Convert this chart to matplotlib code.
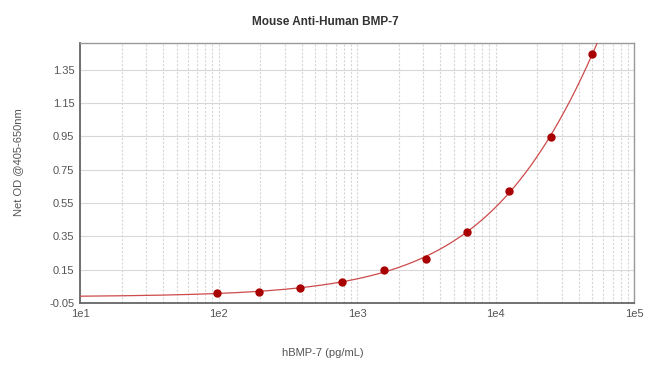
import numpy as np
import matplotlib
matplotlib.use('Agg')
import matplotlib.pyplot as plt
from matplotlib.ticker import FixedLocator, NullFormatter

plt.rcParams['font.family'] = ['Liberation Sans', 'DejaVu Sans']

# standard curve readings
conc = [97.66, 195.3, 390.6, 781.3, 1562.5, 3125, 6250, 12500, 25000, 50000]
od = [0.008, 0.017, 0.043, 0.077, 0.146, 0.214, 0.377, 0.622, 0.946, 1.445]

y_ticks = [-0.05, 0.15, 0.35, 0.55, 0.75, 0.95, 1.15, 1.35]
x_ticks = [1e1, 1e2, 1e3, 1e4, 1e5]
x_tick_labels = ['1e1', '1e2', '1e3', '1e4', '1e5']


def fit_4pl(x, y):
    # grid over slope/midpoint, least squares for the two asymptotes
    x = np.asarray(x, float)
    y = np.asarray(y, float)
    best = None
    for b in np.linspace(0.3, 2.0, 171):
        for lc in np.linspace(3.0, 7.0, 201):
            u = (x / 10 ** lc) ** b
            M = np.column_stack([1 / (1 + u), u / (1 + u)])
            coef, *_ = np.linalg.lstsq(M, y, rcond=None)
            err = np.sum((M @ coef - y) ** 2)
            if best is None or err < best[0]:
                best = (err, b, 10 ** lc, coef[0], coef[1])
    _, b, c, a, d = best
    return lambda t: d + (a - d) / (1 + (t / c) ** b)


curve = fit_4pl(conc, od)
xs = np.logspace(1, 5, 400)

fig = plt.figure(figsize=(6.5, 3.69), dpi=100)
ax = fig.add_axes([80 / 650, 1 - 303 / 369, 554 / 650, 260 / 369])

ax.plot(xs, curve(xs), color='#cc4a4a', lw=0.9, zorder=3)
ax.plot(conc, od, 'o', color='#a80000', ms=5, zorder=4)

ax.set_xscale('log')
ax.set_xlim(10, 1e5)
ax.set_ylim(-0.05, 1.51)

ax.xaxis.set_major_locator(FixedLocator(x_ticks))
ax.set_xticklabels(x_tick_labels)
ax.xaxis.set_minor_locator(FixedLocator([m * 10 ** e for e in range(1, 5) for m in range(2, 10)]))
ax.xaxis.set_minor_formatter(NullFormatter())
ax.set_yticks(y_ticks)
ax.set_yticklabels(['%.2f' % v for v in y_ticks])

ax.grid(True, which='both', axis='x', color='#d6d6d6', ls=(0, (2, 1.5)), lw=0.8)
ax.grid(True, which='major', axis='y', color='#d8d8d8', ls='-', lw=0.8)
ax.set_axisbelow(True)

ax.tick_params(which='both', length=0, labelsize=8, colors='#555555', pad=4)
for side in ['left', 'bottom']:
    ax.spines[side].set_color('#666666')
    ax.spines[side].set_linewidth(1.3)
for side in ['top', 'right']:
    ax.spines[side].set_color('#999999')
    ax.spines[side].set_linewidth(1.0)

fig.text(0.5, 1 - 22 / 369, 'Mouse Anti-Human BMP-7', ha='center', va='center',
         fontsize=8.5, fontweight='bold', color='#333333')
fig.text(323 / 650, 1 - 353 / 369, 'hBMP-7 (pg/mL)', ha='center', va='center',
         fontsize=8, color='#555555')
fig.text(18 / 650, 1 - 162 / 369, 'Net OD @405-650nm', ha='center', va='center',
         rotation=90, fontsize=8, color='#555555')

fig.savefig('out.png', dpi=100)
